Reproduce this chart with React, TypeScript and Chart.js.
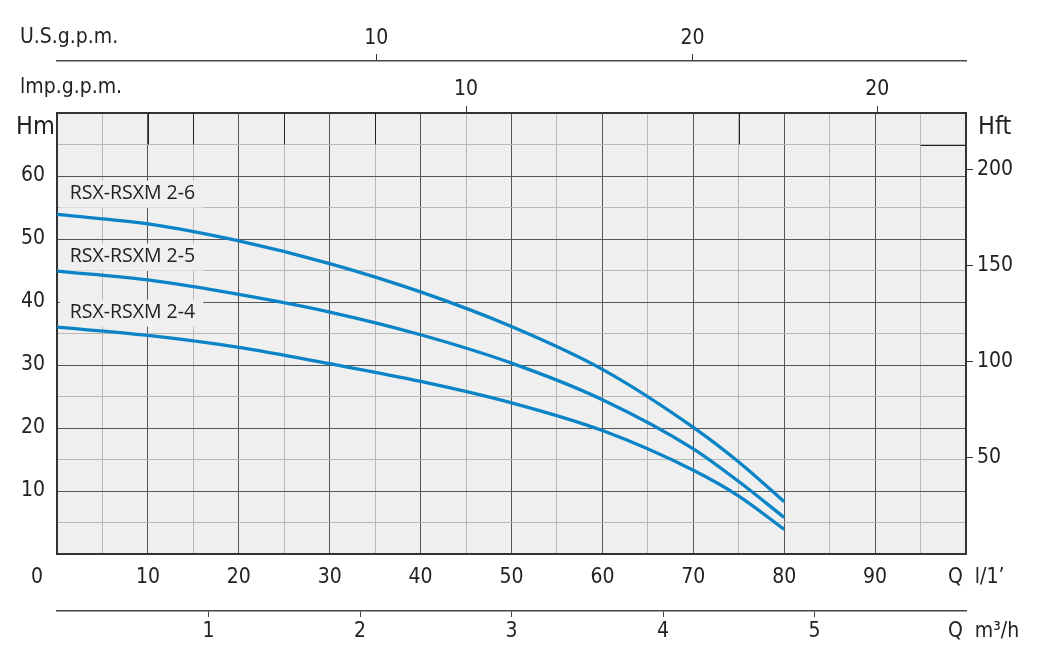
import React, { useEffect, useRef } from 'react';
import { Chart, registerables } from 'chart.js';

Chart.register(...registerables);

// flow Q in l/min
const flow = [0, 10, 20, 30, 40, 50, 60, 70, 75, 80];
// head H in m
const head26 = [53.9, 52.4, 49.7, 46.1, 41.6, 36.1, 29.3, 20.1, 14.6, 8.3];
const head25 = [44.9, 43.5, 41.2, 38.4, 34.8, 30.3, 24.5, 16.7, 11.5, 5.8];
const head24 = [36.0, 34.7, 32.8, 30.2, 27.4, 24.0, 19.6, 13.3, 9.2, 3.9];
const seriesNames = ['RSX-RSXM 2-6', 'RSX-RSXM 2-5', 'RSX-RSXM 2-4'];

// tick labels
const flowTicks = [10, 20, 30, 40, 50, 60, 70, 80, 90];
const hmTicks = [10, 20, 30, 40, 50, 60];
const hftTicks = [50, 100, 150, 200];
const m3hTicks = [1, 2, 3, 4, 5];
const usTicks = [10, 20];
const impTicks = [10, 20];

const M_TO_FT = 3.28084;
const TICK_FONT = "'DejaVu Sans Condensed', 'Liberation Sans Narrow', 'DejaVu Sans', sans-serif";
const NAME_FONT = "'Open Sans', 'Noto Sans', sans-serif";
const INK = '#222';
const MAJOR = '#555';
const MINOR = '#b8b8b8';
const PLOT_BG = '#efefef';
const BLUE = '#0a84c6';

// where each curve name sits (l/min, m)
const nameAt = [
  [1.4, 57.2],
  [1.4, 47.2],
  [1.4, 38.3],
];

const pairs = (ys: number[]) => flow.map((q, i) => ({ x: q, y: ys[i] }));

const noPad = (s: any) => {
  s.paddingLeft = 0;
  s.paddingRight = 0;
  s.paddingTop = 0;
  s.paddingBottom = 0;
};

const gridColor = (c: any) => (c.tick && c.tick.value % 10 === 0 ? MAJOR : MINOR);

const extras = {
  id: 'extras',
  beforeDraw(chart: any) {
    const { ctx, chartArea } = chart;
    ctx.save();
    ctx.fillStyle = PLOT_BG;
    ctx.fillRect(chartArea.left, chartArea.top, chartArea.width, chartArea.height);
    ctx.restore();
  },
  beforeDatasetsDraw(chart: any) {
    const { ctx, scales } = chart;
    const x = scales.x;
    const y = scales.y;
    ctx.save();
    // darker segments in the top band
    ctx.strokeStyle = '#222';
    ctx.lineWidth = 1;
    [10, 15, 25, 35, 75].forEach((q) => {
      const px = Math.round(x.getPixelForValue(q)) + 0.5;
      ctx.beginPath();
      ctx.moveTo(px, y.getPixelForValue(70));
      ctx.lineTo(px, y.getPixelForValue(65));
      ctx.stroke();
    });
    const py = Math.round(y.getPixelForValue(65)) + 0.5;
    ctx.beginPath();
    ctx.moveTo(x.getPixelForValue(95), py);
    ctx.lineTo(x.getPixelForValue(100), py);
    ctx.stroke();

    // curve names
    ctx.font = `19.5px ${NAME_FONT}`;
    ctx.textBaseline = 'middle';
    seriesNames.forEach((name, i) => {
      const lx = x.getPixelForValue(nameAt[i][0]);
      const ly = y.getPixelForValue(nameAt[i][1]);
      const w = ctx.measureText(name).width;
      ctx.fillStyle = PLOT_BG;
      ctx.fillRect(lx - 10, ly - 13, w + 18, 27);
      ctx.fillStyle = INK;
      ctx.fillText(name, lx, ly);
    });
    ctx.restore();
  },
  afterDraw(chart: any) {
    const { ctx, chartArea } = chart;
    ctx.save();
    ctx.fillStyle = INK;
    ctx.textBaseline = 'middle';
    ctx.textAlign = 'left';
    ctx.font = `21px ${TICK_FONT}`;
    ctx.fillText('U.S.g.p.m.', 20, 38);
    ctx.fillText('lmp.g.p.m.', 20, 88);
    ctx.fillText('Q  l/1\u2019', 948, 578);
    ctx.fillText('Q  m\u00b3/h', 948, 632);
    ctx.textAlign = 'center';
    ctx.fillText('0', chartArea.left - 20, 578);
    ctx.textAlign = 'left';
    ctx.font = `25px ${TICK_FONT}`;
    ctx.fillText('Hm', 16, 127);
    ctx.fillText('Hft', chartArea.right + 12, 127);
    ctx.restore();
  },
};

const tickFont = { family: TICK_FONT, size: 21 };

const PumpCurves: React.FC = () => {
  const canvasRef = useRef<HTMLCanvasElement | null>(null);
  const chartRef = useRef<Chart | null>(null);

  useEffect(() => {
    document.body.style.margin = '0';
    if (!canvasRef.current) return;

    chartRef.current = new Chart(canvasRef.current, {
      type: 'line',
      data: {
        datasets: [head26, head25, head24].map((h, i) => ({
          label: seriesNames[i],
          data: pairs(h),
          borderColor: BLUE,
          borderWidth: 3.3,
          pointRadius: 0,
          cubicInterpolationMode: 'monotone' as const,
          xAxisID: 'x',
          yAxisID: 'y',
        })),
      },
      options: {
        responsive: false,
        animation: false,
        layout: { padding: 0 },
        plugins: { legend: { display: false }, tooltip: { enabled: false } },
        scales: {
          x: {
            type: 'linear',
            position: 'bottom',
            min: 0,
            max: 100,
            ticks: {
              stepSize: 5,
              autoSkip: false,
              maxRotation: 0,
              padding: 11,
              color: INK,
              font: tickFont,
              callback: (v: any) => (flowTicks.includes(v) ? String(v) : ''),
            },
            grid: { color: gridColor, drawTicks: false, lineWidth: 1 },
            border: { display: true, color: '#333', width: 2 },
            afterFit: (s: any) => {
              s.height = 57;
              noPad(s);
            },
          },
          xM3: {
            type: 'linear',
            position: 'bottom',
            weight: 1,
            min: 0,
            max: 6,
            afterBuildTicks: (s: any) => {
              s.ticks = m3hTicks.map((v) => ({ value: v }));
            },
            ticks: { padding: 2, color: INK, font: tickFont, maxRotation: 0, autoSkip: false },
            grid: { drawOnChartArea: false, tickLength: 6, color: '#444' },
            border: { display: true, color: '#444', width: 1.5 },
            afterFit: (s: any) => {
              s.height = 44;
              noPad(s);
            },
          },
          xImp: {
            type: 'linear',
            position: 'top',
            weight: 1,
            min: 0.05,
            max: 22.16,
            afterBuildTicks: (s: any) => {
              s.ticks = impTicks.map((v) => ({ value: v }));
            },
            ticks: { padding: 4, color: INK, font: tickFont, maxRotation: 0, autoSkip: false },
            grid: { drawOnChartArea: false, tickLength: 7, color: '#333' },
            border: { display: true, color: '#333', width: 2 },
            afterFit: (s: any) => {
              s.height = 52;
              noPad(s);
            },
          },
          xUS: {
            type: 'linear',
            position: 'top',
            weight: 2,
            min: -0.1,
            max: 28.65,
            afterBuildTicks: (s: any) => {
              s.ticks = usTicks.map((v) => ({ value: v }));
            },
            ticks: { padding: 3, color: INK, font: tickFont, maxRotation: 0, autoSkip: false },
            grid: { drawOnChartArea: false, tickLength: 7, color: '#333' },
            border: { display: true, color: '#444', width: 1.5 },
            afterFit: (s: any) => {
              s.height = 61;
              noPad(s);
            },
          },
          y: {
            type: 'linear',
            position: 'left',
            min: 0,
            max: 70,
            ticks: {
              stepSize: 5,
              autoSkip: false,
              padding: 12,
              color: INK,
              font: tickFont,
              callback: (v: any) => (hmTicks.includes(v) ? String(v) : ''),
            },
            grid: { color: gridColor, drawTicks: false, lineWidth: 1 },
            border: { display: true, color: '#333', width: 2 },
            afterFit: (s: any) => {
              s.width = 57;
              noPad(s);
            },
          },
          y2: {
            type: 'linear',
            position: 'right',
            min: 0,
            max: 70 * M_TO_FT,
            afterBuildTicks: (s: any) => {
              s.ticks = hftTicks.map((v) => ({ value: v }));
            },
            ticks: { padding: 4, color: INK, font: tickFont, autoSkip: false },
            grid: { drawOnChartArea: false, tickLength: 7, color: '#333' },
            border: { display: true, color: '#333', width: 2 },
            afterFit: (s: any) => {
              s.width = 76;
              noPad(s);
            },
          },
        },
      },
      plugins: [extras],
    });

    return () => {
      if (chartRef.current) {
        chartRef.current.destroy();
        chartRef.current = null;
      }
    };
  }, []);

  return (
    <div style={{ width: 1042, height: 655, background: '#fff' }}>
      <canvas ref={canvasRef} width={1042} height={655} style={{ display: 'block' }}></canvas>
    </div>
  );
};

export default function App() {
  return <PumpCurves />;
}
